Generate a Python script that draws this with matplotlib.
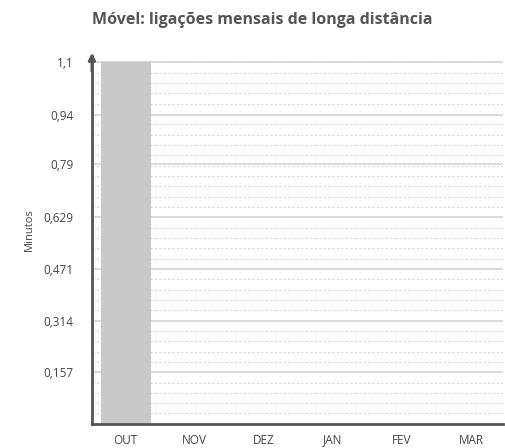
import matplotlib.pyplot as plt
from matplotlib.ticker import FixedLocator, MultipleLocator

meses = ["OUT", "NOV", "DEZ", "JAN", "FEV", "MAR"]
minutos = [1.1, 0, 0, 0, 0, 0]
ticks_y = [0.157, 0.314, 0.471, 0.629, 0.79, 0.94, 1.1]
labels_y = ["0,157", "0,314", "0,471", "0,629", "0,79", "0,94", "1,1"]

plt.rcParams['font.family'] = ['Open Sans', 'DejaVu Sans']

fig = plt.figure(figsize=(5.05, 4.48), dpi=100)
ax = fig.add_axes([0.182, 0.054, 0.814, 0.822])

x = list(range(len(meses)))
ax.bar(x, minutos, width=0.72, color='#c9c9c9', zorder=3)

ax.set_xlim(-0.49, 5.46)
ax.set_ylim(0, 1.12)
ax.set_xticks(x)
ax.set_xticklabels(meses)
ax.yaxis.set_major_locator(FixedLocator(ticks_y))
ax.set_yticklabels(labels_y)
ax.yaxis.set_minor_locator(MultipleLocator(0.157 / 5))

ax.grid(axis='y', which='major', color='#d4d4d4', linewidth=1.2, zorder=0)
ax.grid(axis='y', which='minor', color='#d8d8d8', linewidth=0.8, linestyle=(0, (2, 2)), zorder=0)

ax.tick_params(axis='both', which='both', length=0, labelsize=8.5, colors='#444444')
ax.tick_params(axis='y', pad=13)
ax.tick_params(axis='x', pad=7)

for s in ['top', 'right']:
    ax.spines[s].set_visible(False)
for s in ['left', 'bottom']:
    ax.spines[s].set_color('#555555')
    ax.spines[s].set_linewidth(2)
    ax.spines[s].set_zorder(4)

# seta no topo do eixo y
ax.annotate('', xy=(0, 1.015), xycoords='axes fraction', xytext=(0, 0.95),
            arrowprops=dict(arrowstyle='-|>', color='#555555', lw=2, mutation_scale=10))

ax.set_ylabel('Minutos', fontsize=8, color='#444444')
ax.yaxis.set_label_coords(-0.139, 0.527)
fig.text(0.52, 0.955, 'Móvel: ligações mensais de longa distância', ha='center', va='center',
         fontsize=11.5, fontweight='bold', color='#555555')

fig.savefig('out.png', dpi=100)
